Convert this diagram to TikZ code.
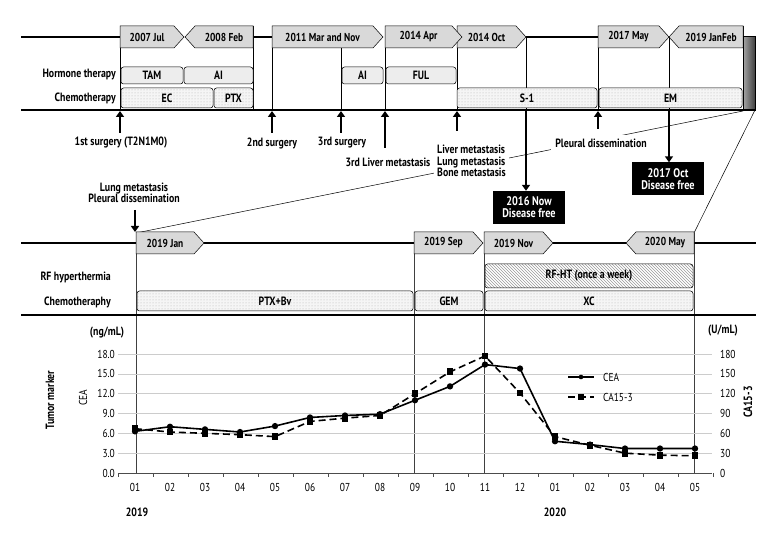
\documentclass[tikz,border=0pt]{standalone}
\usepackage{fontspec}
\setmainfont{PT Sans}[FakeStretch=0.82]
\usetikzlibrary{patterns,arrows.meta,plotmarks}
\newcommand{\rtag}[5]{%
 \path[tagshape] (#2,#4) -- ({#3-10},#4) -- (#3,{#4+11}) -- ({#3-10},{#4+22}) -- (#2,{#4+22}) -- cycle;
 \node[tagtext] (#1) at ({(#2+#3-10)/2},{#4+11}) {#5};}
\newcommand{\ltag}[5]{%
 \path[tagshape] (#3,#4) -- ({#2+10},#4) -- (#2,{#4+11}) -- ({#2+10},{#4+22}) -- (#3,{#4+22}) -- cycle;
 \node[tagtext] (#1) at ({(#2+10+#3)/2},{#4+11}) {#5};}
\newcommand{\rbox}[7]{\node[#1, anchor=north west, minimum width={(#5-#3)*1pt}, minimum height={(#6-#4)*1pt}] (#2) at (#3,#4) {#7};}
\begin{document}
\begin{tikzpicture}[x=1pt,y=-1pt,
  font=\fontsize{12}{14}\selectfont\bfseries,
  thickline/.style={line width=2.2pt},
  thinline/.style={line width=0.6pt},
  tagshape/.style={draw, fill=black!15, line width=0.5pt},
  tagtext/.style={inner sep=0pt, font=\fontsize{11.5}{13}\selectfont\bfseries},
  hbox/.style={draw, rounded corners=2.5pt, fill=black!7, inner sep=0pt, outer sep=0pt, line width=0.5pt},
  cbox/.style={draw, rounded corners=2.5pt, preaction={fill=black!4}, pattern=dots, pattern color=black!30, inner sep=0pt, outer sep=0pt, line width=0.5pt},
  hatchbox/.style={draw, rounded corners=2.5pt, pattern=north west lines, pattern color=black!40, inner sep=0pt, outer sep=0pt, line width=0.5pt},
  rowlabel/.style={anchor=east, inner sep=0pt},
  arr/.style={line width=1.8pt, -{Triangle[length=6pt,width=8pt]}},
  blackbox/.style={fill=black, text=white, align=center, minimum width=72pt, minimum height=33pt, inner sep=0pt, font=\fontsize{12.5}{14}\selectfont\bfseries},
  event/.style={inner sep=1pt, align=center},
  zoomline/.style={line width=0.5pt},
  grid/.style={black!20, line width=0.5pt},
  num/.style={font=\fontsize{11.5}{13}\selectfont, inner sep=0pt},
  cea/.style={line width=1.6pt, mark=*, mark size=2.3pt},
  ca/.style={line width=1.6pt, dash pattern=on 7pt off 4pt, mark=square*, mark size=2.6pt, mark options={solid}},
  vline/.style={black!75, line width=0.8pt}
]
\useasboundingbox (0,0) rectangle (780,540);
% ---------- top panel ----------
\draw[thinline] (120,26) -- (120,110);
\draw[thinline] (253,26) -- (253,110);
\draw[thinline] (272,26) -- (272,110);
\draw[thinline] (341,48) -- (341,110);
\draw[thinline] (385,26) -- (385,110);
\draw[thinline] (457,26) -- (457,110);
\draw[thinline] (526,37) -- (526,110);
\draw[thinline] (598,26) -- (598,110);
\draw[thinline] (669,37) -- (669,110);
\draw[thinline] (743,26) -- (743,110);
\draw[thickline] (21,37) -- (120,37);
\draw[thickline] (253,37) -- (272,37);
\draw[thickline] (526,37) -- (598,37);
\rtag{t2007}{120}{184}{26}{2007 Jul}
\ltag{t2008}{185}{253}{26}{2008 Feb}
\rtag{t2011}{272}{383}{26}{2011 Mar and Nov}
\rtag{t2014o}{457}{526}{26}{2014 Oct}
\rtag{t2014a}{385}{462}{26}{2014 Apr}
\rtag{t2017}{598}{669}{26}{2017 May}
\ltag{t2019}{669}{743}{26}{2019 JanFeb}
\node[rowlabel] (hlab) at (116,75) {Hormone therapy};
\node[rowlabel] (clab) at (116,98) {Chemotherapy};
\rbox{hbox}{tam}{121}{67}{183}{84}{TAM}
\rbox{hbox}{ai1}{184}{67}{253}{84}{AI}
\rbox{hbox}{ai2}{342}{67}{383}{84}{AI}
\rbox{hbox}{ful}{386}{67}{456}{84}{FUL}
\rbox{cbox}{ec}{121}{88}{213}{108}{EC}
\rbox{cbox}{ptx}{214}{88}{253}{108}{PTX}
\rbox{cbox}{s1}{457}{88}{597}{108}{S-1}
\rbox{cbox}{em}{599}{88}{742}{108}{EM}
\draw[line width=1pt, left color=black!35, right color=black!75] (743,37) rectangle (755,110);
\draw[thickline] (21,110) -- (756,110);
% ---------- zoom lines ----------
\coordinate (zA) at (743,111);
\coordinate (zB) at (136,233);
\coordinate (zC) at (755,110);
\coordinate (zD) at (694,233);
\draw[zoomline] (zA) -- (zB);
\draw[zoomline] (zC) -- (zD);
% ---------- events ----------
\node[event] (e1) at (121,143) {1st surgery (T2N1M0)};
\node[event] (e2) at (272,143) {2nd surgery};
\node[event] (e3) at (342,143) {3rd surgery};
\node[event, fill=white] (e4) at (388,162) {3rd Liver metastasis};
\node[event, fill=white, align=left, anchor=west, inner sep=3pt] (e5) at (434,161) {Liver metastasis\\[-2.5pt]Lung metastasis\\[-2.5pt]Bone metastasis};
\node[event, fill=white, inner sep=4pt] (e6) at (601,143) {Pleural dissemination};
\node[event, align=center] (e7) at (134,193) {Lung metastasis\\[-2.5pt]Pleural dissemination};
\coordinate (a1) at (120,133);
\coordinate (a1t) at (120,111);
\draw[arr] (a1) -- (a1t);
\coordinate (a2) at (272,133);
\coordinate (a2t) at (272,111);
\draw[arr] (a2) -- (a2t);
\coordinate (a3) at (341,133);
\coordinate (a3t) at (341,111);
\draw[arr] (a3) -- (a3t);
\coordinate (a4) at (385,148);
\coordinate (a4t) at (385,111);
\draw[arr] (a4) -- (a4t);
\coordinate (a5) at (457,131);
\coordinate (a5t) at (457,111);
\draw[arr] (a5) -- (a5t);
\coordinate (a6) at (598,129);
\coordinate (a6t) at (598,111);
\draw[arr] (a6) -- (a6t);
\node[blackbox] (df1) at (529,207.5) {2016 Now\\[-2pt]Disease free};
\node[blackbox] (df2) at (668,179) {2017 Oct\\[-2pt]Disease free};
\coordinate (d1) at (526,111);
\draw[arr] (d1) -- (df1.north -| d1);
\coordinate (d2) at (669,111);
\draw[arr] (d2) -- (df2.north -| d2);
\coordinate (d3) at (135,210);
\coordinate (d3t) at (135,232);
\draw[arr] (d3) -- (d3t);
% ---------- lower panel ----------
\draw[vline] (136,233) -- (136,473);
\draw[vline] (414,233) -- (414,473);
\draw[vline] (484,233) -- (484,473);
\draw[vline] (694,233) -- (694,473);
\draw[thickline] (21,243) -- (136,243);
\draw[thickline] (204,243) -- (414,243);
\draw[thickline] (553,243) -- (626,243);
\draw[thickline] (694,243) -- (756,243);
\rtag{l2019j}{136}{204}{232}{2019 Jan}
\rtag{l2019s}{414}{483}{232}{2019 Sep}
\rtag{l2019n}{484}{553}{232}{2019 Nov}
\ltag{l2020m}{626}{694}{232}{2020 May}
\node[rowlabel] (rflab) at (111,277) {RF hyperthermia};
\node[rowlabel] (c2lab) at (111,302) {Chemotheraphy};
\rbox{hatchbox}{rfht}{485}{264}{693}{288}{RF-HT (once a week)}
\rbox{cbox}{ptxbv}{137}{291}{413}{311}{PTX+Bv}
\rbox{cbox}{gem}{415}{291}{483}{311}{GEM}
\rbox{cbox}{xc}{485}{291}{693}{311}{XC}
\draw[thickline] (21,315) -- (756,315);
% ---------- chart ----------
\begin{scope}[shift={(135,473)}, x=35pt, y=6.611pt]
\foreach \v in {3,6,...,18} \draw[grid] (-0.486,\v) -- (16.486,\v);
\foreach \v/\t in {0/0.0,3/3.0,6/6.0,9/9.0,12/12.0,15/15.0,18/18.0}
  \node[num, anchor=east] (yl\v) at (-0.571,\v) {\t};
\foreach \v/\t in {0/0,3/30,6/60,9/90,12/120,15/150,18/180}
  \node[num, anchor=west] (yr\v) at (16.714,\v) {\t};
\draw[black!70, line width=0.8pt] (-0.486,0) -- (16.486,0);
\foreach \k in {0,...,17} \draw[black!70, line width=0.6pt] ({\k-0.486},0) -- ({\k-0.486},-0.6);
\foreach \i/\m in {0/01,1/02,2/03,3/04,4/05,5/06,6/07,7/08,8/09,9/10,10/11,11/12,12/01,13/02,14/03,15/04,16/05}
  \node[num] (m\i) at (\i,-2.12) {\m};
\draw[ca] plot coordinates {(0,6.7) (1,6.2) (2,6.0) (3,5.8) (4,5.5) (5,7.8) (6,8.3) (7,8.7) (8,12.0) (9,15.3) (10,17.7) (11,12.1) (12,5.5) (13,4.2) (14,3.0) (15,2.7) (16,2.6)};
\draw[cea] plot coordinates {(0,6.3) (1,7.0) (2,6.6) (3,6.2) (4,7.1) (5,8.4) (6,8.7) (7,8.9) (8,11.0) (9,13.1) (10,16.4) (11,15.8) (12,4.8) (13,4.3) (14,3.7) (15,3.7) (16,3.7)};
\end{scope}
\coordinate (lg1) at (568,377);
\coordinate (lg2) at (594,377);
\draw[line width=1.6pt] (lg1) -- (lg2);
\path (581,377) node[circle, fill=black, inner sep=0pt, minimum size=4.6pt] (lgm1) {};
\node[num, anchor=west] (lgt1) at (603,377) {CEA};
\coordinate (lg3) at (568,397);
\coordinate (lg4) at (594,397);
\draw[line width=1.6pt, dash pattern=on 7pt off 4pt] (lg3) -- (lg4);
\path (581,397) node[rectangle, fill=black, inner sep=0pt, minimum size=5.2pt] (lgm2) {};
\node[num, anchor=west] (lgt2) at (603,397) {CA15-3};
\node (ung) at (107,333) {(ng/mL)};
\node (uu) at (723,331) {(U/mL)};
\node[rotate=90] (tm) at (50,400) {Tumor marker};
\node[rotate=90, font=\fontsize{11.5}{13}\selectfont] (ceaax) at (83,398) {CEA};
\node[rotate=90] (caax) at (748,402) {CA15-3};
\node (y2019) at (137,512) {2019};
\node (y2020) at (555,512) {2020};
\end{tikzpicture}
\end{document}
